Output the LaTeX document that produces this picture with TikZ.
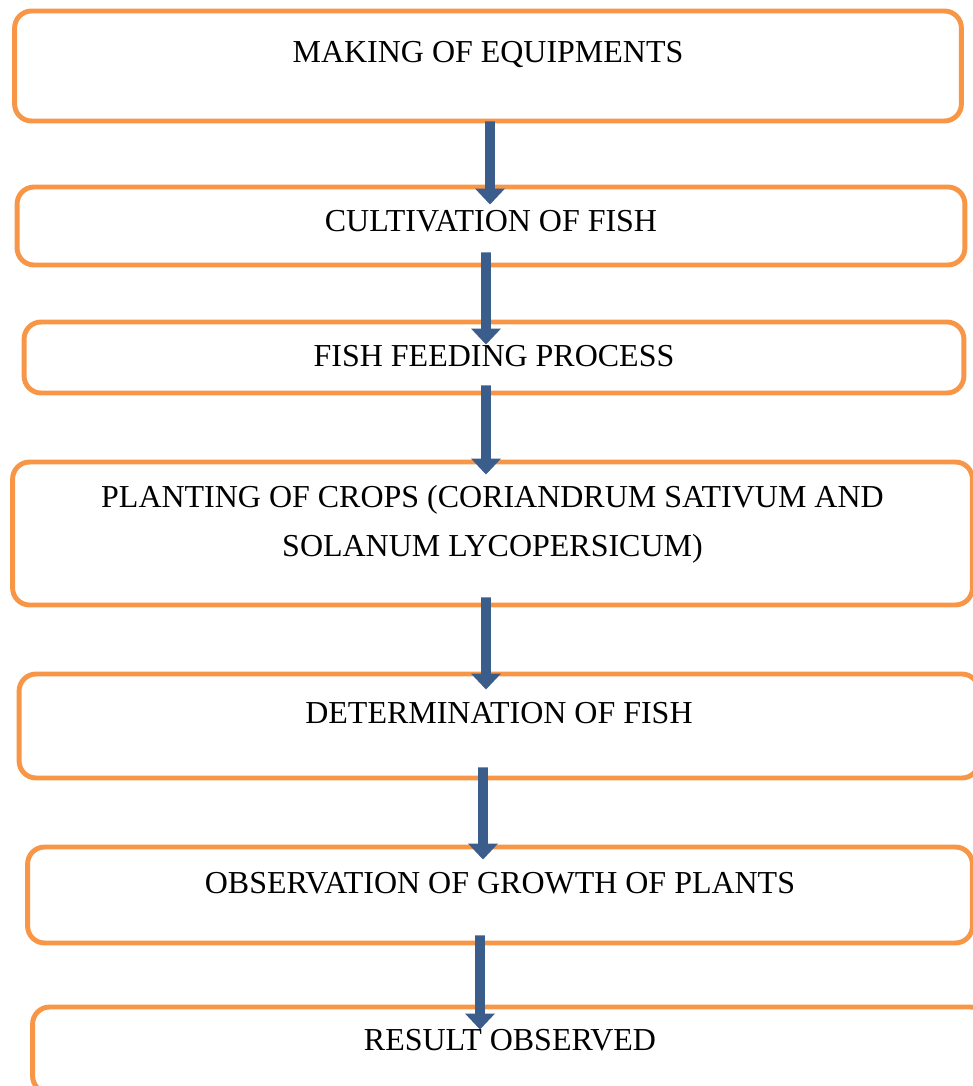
\documentclass[tikz,border=0pt]{standalone}
\usepackage{fontspec}
\setmainfont{Liberation Serif}
\usepackage{tikz}
\usetikzlibrary{arrows.meta,positioning}

\definecolor{boxorange}{RGB}{247,150,70}
\definecolor{arrowblue}{RGB}{58,93,140}

\begin{document}
\begin{tikzpicture}[
    x=0.02cm, y=-0.02cm,
    font=\fontsize{18.2}{27.8}\selectfont,
    stepbox/.style={draw=boxorange, line width=2.8pt, rounded corners=0.34cm},
    steptext/.style={align=center, inner sep=0pt},
    flowarrow/.style={-{Triangle[width=0.58cm,length=0.32cm]}, line width=5.6pt, draw=arrowblue}
]
    \useasboundingbox (0,0) rectangle (973,1086);

    % Boxes
    \node[stepbox, minimum width=18.94cm, minimum height=2.2cm] (making) at (488,66) {};
    \node[stepbox, minimum width=18.96cm, minimum height=1.56cm] (cultivation) at (491,226) {};
    \node[stepbox, minimum width=18.8cm, minimum height=1.42cm] (feeding) at (494,357.5) {};
    \node[stepbox, minimum width=19.2cm, minimum height=2.86cm] (planting) at (492.5,533.5) {};
    \node[stepbox, minimum width=19.2cm, minimum height=2.08cm] (determination) at (499,726) {};
    \node[stepbox, minimum width=18.9cm, minimum height=1.92cm] (observation) at (500,895) {};
    \node[stepbox, minimum width=19.1cm, minimum height=1.72cm] (result) at (510,1050) {};

    % Texts
    \node[steptext] (makingtxt) at ([yshift=-0.92cm]making.north) {MAKING OF EQUIPMENTS};
    \node[steptext] (cultivationtxt) at ([yshift=-0.74cm]cultivation.north) {CULTIVATION OF FISH};
    \node[steptext] (feedingtxt) at ([yshift=-0.74cm]feeding.north) {FISH FEEDING PROCESS};
    \node[steptext] (plantingtxt) at ([yshift=-1.3cm]planting.north) {PLANTING OF CROPS (CORIANDRUM SATIVUM AND\\SOLANUM LYCOPERSICUM)};
    \node[steptext] (determinationtxt) at ([yshift=-0.84cm]determination.north) {DETERMINATION OF FISH};
    \node[steptext] (observationtxt) at ([yshift=-0.78cm]observation.north) {OBSERVATION OF GROWTH OF PLANTS};
    \node[steptext] (resulttxt) at ([yshift=-0.72cm]result.north) {RESULT OBSERVED};

    % Arrows
    \draw[flowarrow] ([xshift=0.04cm,yshift=0.04cm]making.south) -- ([xshift=-0.02cm,yshift=-0.4cm]cultivation.north);
    \draw[flowarrow] ([xshift=-0.1cm,yshift=0.3cm]cultivation.south) -- ([xshift=-0.16cm,yshift=-0.5cm]feeding.north);
    \draw[flowarrow] ([xshift=-0.16cm,yshift=0.2cm]feeding.south) -- ([xshift=-0.13cm,yshift=-0.3cm]planting.north);
    \draw[flowarrow] ([xshift=-0.13cm,yshift=0.2cm]planting.south) -- ([xshift=-0.26cm,yshift=-0.36cm]determination.north);
    \draw[flowarrow] ([xshift=-0.32cm,yshift=0.26cm]determination.south) -- ([xshift=-0.34cm,yshift=-0.3cm]observation.north);
    \draw[flowarrow] ([xshift=-0.4cm,yshift=0.2cm]observation.south) -- ([xshift=-0.6cm,yshift=-0.5cm]result.north);

\end{tikzpicture}
\end{document}
